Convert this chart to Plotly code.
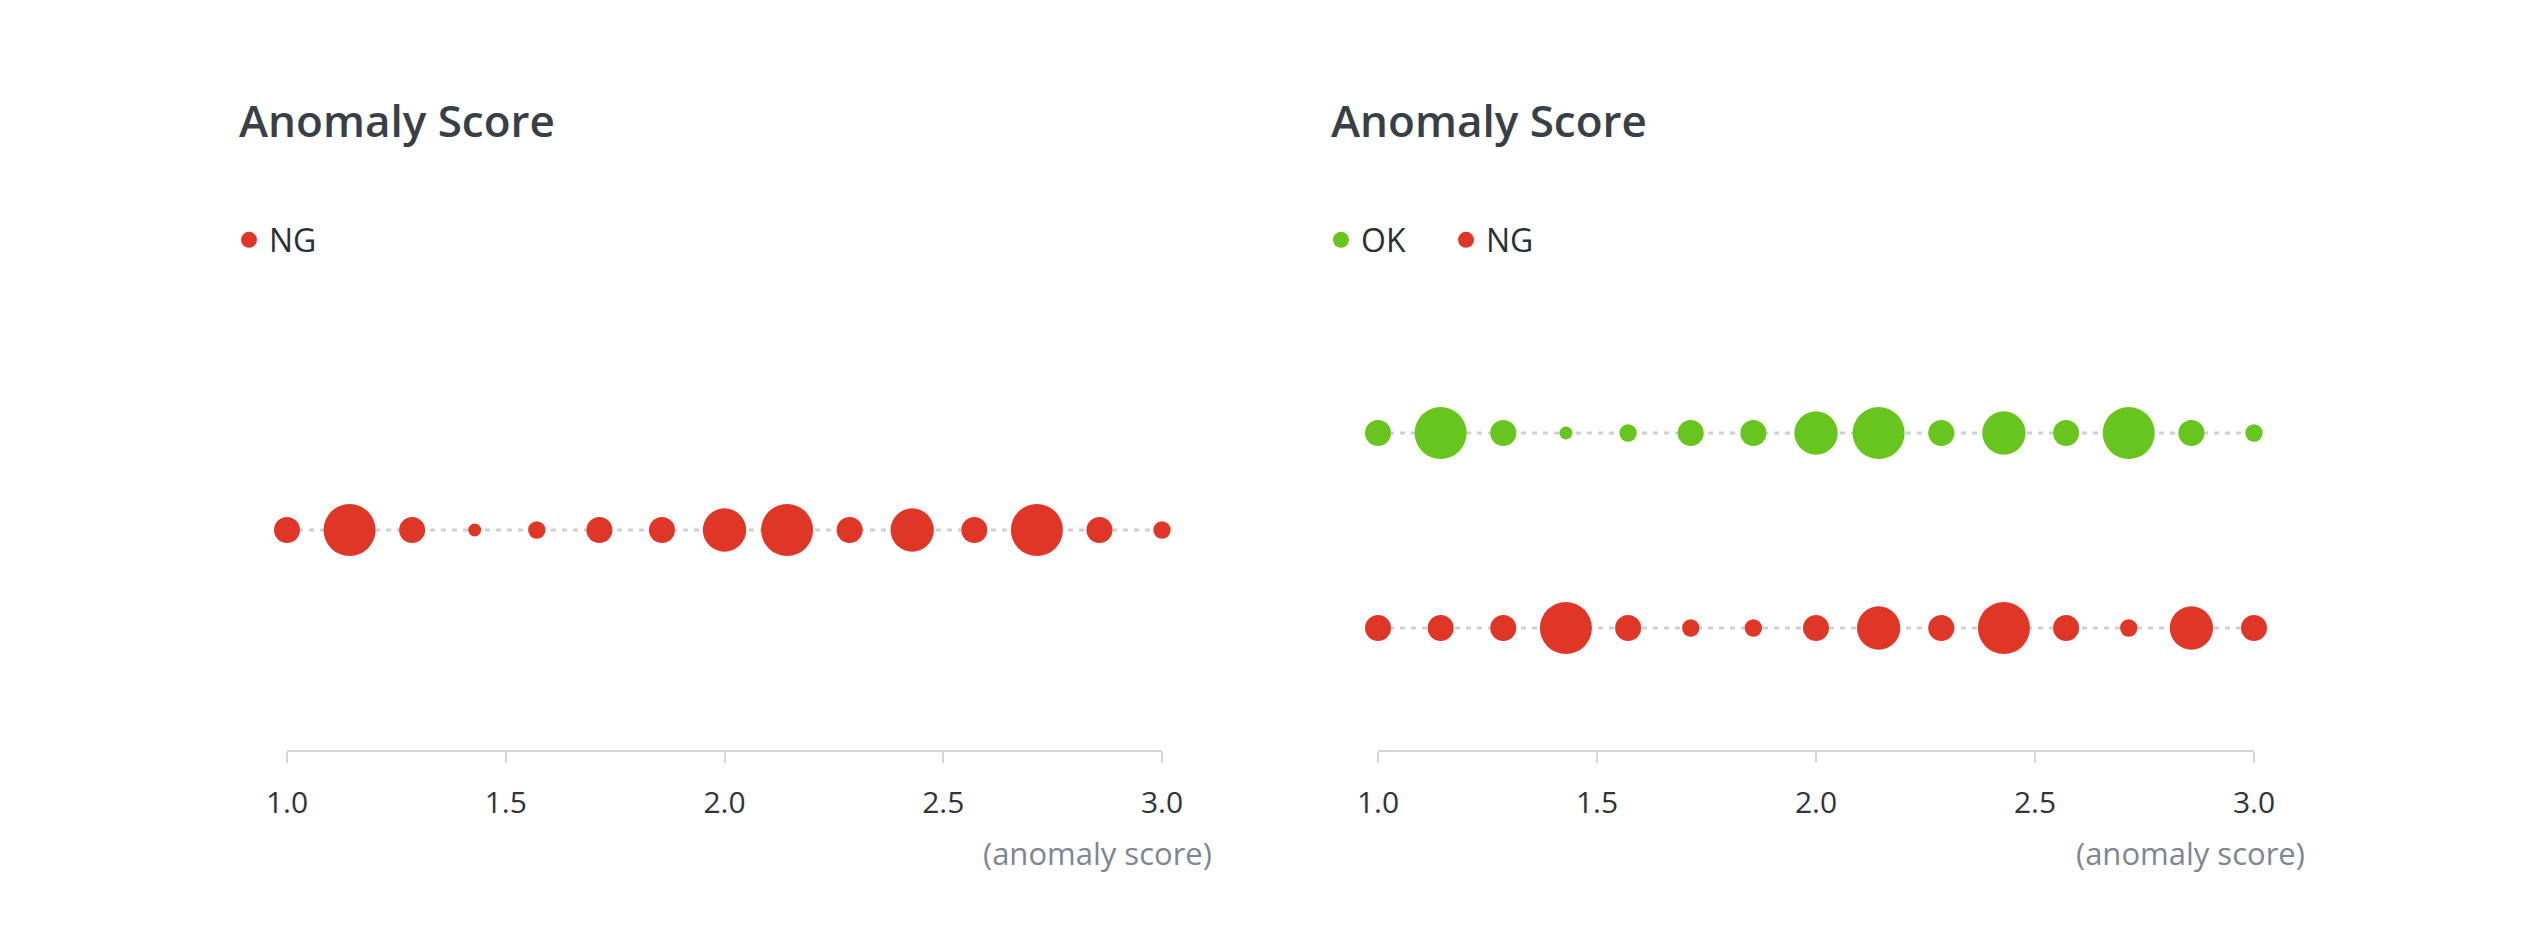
import plotly.graph_objects as go

# ---------------- data ----------------
scores = [1.0, 1.143, 1.286, 1.429, 1.571, 1.714, 1.857, 2.0,
          2.143, 2.286, 2.429, 2.571, 2.714, 2.857, 3.0]

left_ng = [6, 12, 6, 3, 4, 6, 6, 10, 12, 6, 10, 6, 12, 6, 4]
right_ok = [6, 12, 6, 3, 4, 6, 6, 10, 12, 6, 10, 6, 12, 6, 4]
right_ng = [6, 6, 6, 12, 6, 4, 4, 6, 10, 6, 12, 6, 4, 10, 6]

tick_vals = [1.0, 1.5, 2.0, 2.5, 3.0]
tick_text = ["1.0", "1.5", "2.0", "2.5", "3.0"]

title_text = "Anomaly Score"
axis_label = "(anomaly score)"

# ---------------- style ----------------
W, H = 2544, 942
RED = "#DF3727"
GREEN = "#67C51D"
DOT = "#CDD0D5"
AXIS = "#D3D6DB"
FONT = "Open Sans"
MAX_D = 52
SIZEREF = max(left_ng + right_ok + right_ng) / MAX_D


def fx(px):
    return px / W


def fy(py):
    return 1 - py / H


fig = go.Figure()


def add_series(xa, ya, yval, values, color, name, legend):
    fig.add_trace(go.Scatter(
        x=scores, y=[yval] * len(scores), mode="lines",
        line=dict(color=DOT, width=3, dash="5px,6px"),
        xaxis=xa, yaxis=ya, showlegend=False, hoverinfo="skip",
        cliponaxis=False))
    fig.add_trace(go.Scatter(
        x=scores, y=[yval] * len(scores), mode="markers", name=name,
        marker=dict(size=values, sizemode="diameter", sizeref=SIZEREF,
                    color=color, opacity=1, line=dict(width=0)),
        xaxis=xa, yaxis=ya, showlegend=False, legendgroup=name + legend,
        cliponaxis=False))
    # legend entry (no visible points)
    fig.add_trace(go.Scatter(
        x=[None], y=[None], mode="markers", name=name,
        marker=dict(size=18, color=color, opacity=1),
        xaxis=xa, yaxis=ya, legend=legend, legendgroup=name + legend,
        showlegend=True, hoverinfo="skip"))


add_series("x", "y", 0, left_ng, RED, "NG", "legend")
add_series("x2", "y2", 1, right_ok, GREEN, "OK", "legend2")
add_series("x2", "y2", 0, right_ng, RED, "NG", "legend2")

ydom = [fy(750), fy(335)]
xcommon = dict(
    range=[1.0, 3.0], tickvals=tick_vals, ticktext=tick_text,
    showline=True, linecolor=AXIS, linewidth=2,
    ticks="outside", ticklen=11, tickwidth=2, tickcolor=AXIS,
    showgrid=False, zeroline=False, fixedrange=True,
    tickfont=dict(family=FONT, size=30, color="#30343b"),
    ticklabelstandoff=14,
)
ycommon = dict(visible=False, showgrid=False, zeroline=False, fixedrange=True)

legend_font = dict(family=FONT, size=32, color="#2b2f36")

fig.update_layout(
    width=W, height=H,
    margin=dict(l=0, r=0, t=0, b=0, pad=0, autoexpand=False),
    paper_bgcolor="white", plot_bgcolor="white",
    xaxis=dict(domain=[fx(287), fx(1162)], anchor="y", **xcommon),
    yaxis=dict(domain=ydom, anchor="x", range=[-220 / 195, 1.0], **ycommon),
    xaxis2=dict(domain=[fx(1378), fx(2254)], anchor="y2", **xcommon),
    yaxis2=dict(domain=ydom, anchor="x2", range=[-122 / 195, 1 + 98 / 195], **ycommon),
    legend=dict(x=fx(229), y=fy(240), xanchor="left", yanchor="middle",
                orientation="h", font=legend_font,
                itemsizing="trace", bgcolor="rgba(0,0,0,0)"),
    legend2=dict(x=fx(1321), y=fy(240), xanchor="left", yanchor="middle",
                 orientation="h", font=legend_font,
                 itemsizing="trace", entrywidth=80, entrywidthmode="pixels",
                 bgcolor="rgba(0,0,0,0)"),
    showlegend=True,
)

for xpx in (237, 1329):
    fig.add_annotation(
        x=fx(xpx), y=fy(120), xref="paper", yref="paper",
        xanchor="left", yanchor="middle", showarrow=False,
        text=title_text,
        font=dict(family=FONT, size=44, color="#3a3f47", weight=600))

for xpx in (1214, 2307):
    fig.add_annotation(
        x=fx(xpx), y=fy(853), xref="paper", yref="paper",
        xanchor="right", yanchor="middle", showarrow=False,
        text=axis_label,
        font=dict(family=FONT, size=31, color="#80868f"))

fig.write_html("out.html")
